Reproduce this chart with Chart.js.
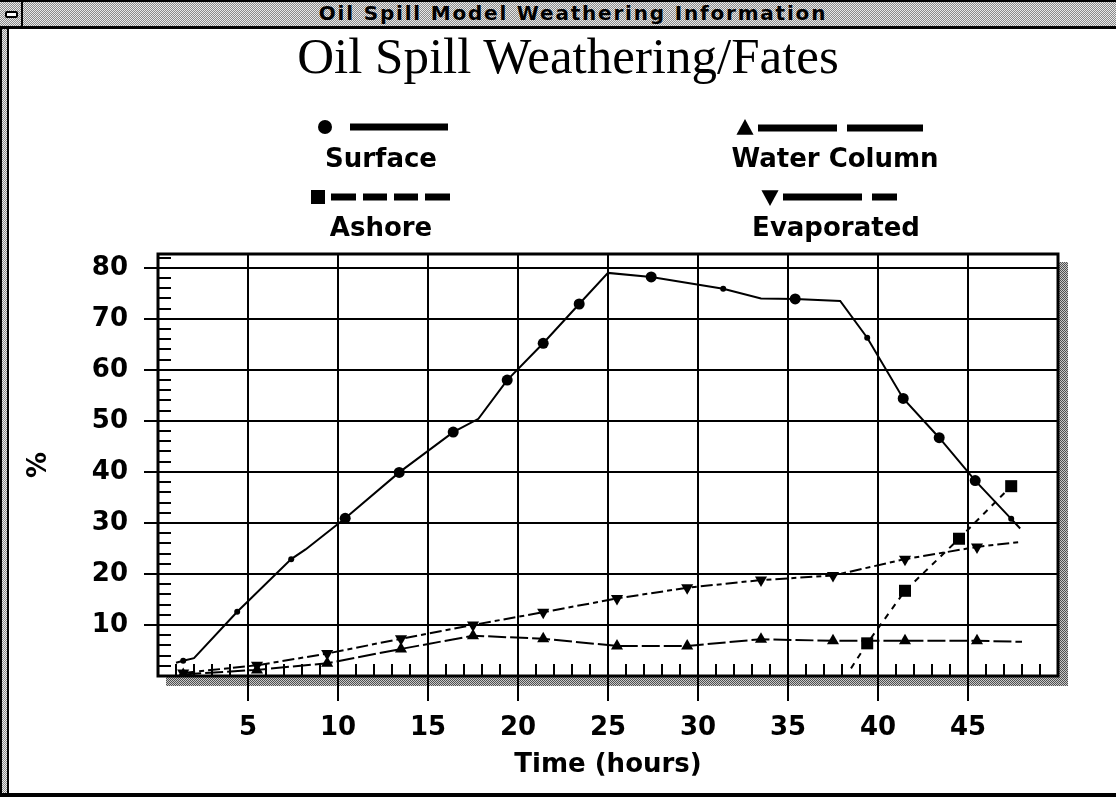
<!DOCTYPE html>
<html>
<head>
<meta charset="utf-8">
<title>Oil Spill Model Weathering Information</title>
<script src="https://cdn.jsdelivr.net/npm/chart.js@4.4.1/dist/chart.umd.min.js"></script>
<style>
  html, body { margin: 0; padding: 0; background: #fff; }
  #win { position: relative; width: 1116px; height: 799px; overflow: hidden; background: #fff; }
  .dither {
    background-color: #bbb;
    background-image: conic-gradient(#8a8a8a 25%, #e8e8e8 0 50%, #8a8a8a 0 75%, #e8e8e8 0);
    background-size: 2px 2px;
  }
  #edgeL { position: absolute; left: 0; top: 0; width: 5px; height: 797px; border-left: 2px solid #000; border-right: 2px solid #000; }
  #bar { position: absolute; left: 0; top: 0; width: 1116px; height: 24px; border-top: 2px solid #000; border-bottom: 3px solid #000; }
  #sys { position: absolute; left: 2px; top: 2px; width: 19px; height: 24px; border-right: 2px solid #000; }
  #sys i { position: absolute; left: 3px; top: 9px; width: 9px; height: 3px; background: #fff; border: 2px solid #000; border-radius: 2px; }
  #barText { position: absolute; left: 0; top: 3px; width: 1146px; text-align: center; font: bold 20px "DejaVu Sans"; letter-spacing: 1.8px; line-height: 20px; color: #000; white-space: nowrap; }
  #title { position: absolute; left: 0; top: 31px; width: 1136px; text-align: center; font: 51px "Liberation Serif"; line-height: 50px; color: #000; white-space: nowrap; }
  #bottom { position: absolute; left: 0; top: 793px; width: 1116px; height: 4px; background: #000; }
  #chart { position: absolute; left: 0; top: 0; }
</style>
</head>
<body>
<div id="win">
  <div id="edgeL" class="dither"></div>
  <div id="bar" class="dither"></div>
  <div id="sys" class="dither"><i></i></div>
  <div id="barText">Oil Spill Model Weathering Information</div>
  <div id="title">Oil Spill Weathering/Fates</div>
  <div id="bottom"></div>
  <canvas id="chart" width="1116" height="799"></canvas>
</div>
<script>
// 数据（小时, %）
var xTicks = [5, 10, 15, 20, 25, 30, 35, 40, 45];
var yTicks = [10, 20, 30, 40, 50, 60, 70, 80];

var surfaceHours = [1.0, 1.4, 2.0, 4.4, 5.1, 7.4, 8.2, 10.4, 13.4, 16.4, 17.8, 19.4, 21.4, 23.4, 25.0, 27.4, 31.4, 33.5, 35.4, 37.9, 39.4, 41.4, 43.4, 45.4, 47.4, 47.9];
var surfacePct = [2.6, 3.0, 3.5, 12.6, 15.0, 22.9, 24.8, 30.9, 39.9, 47.8, 50.4, 58.0, 65.2, 72.9, 79.0, 78.2, 75.9, 74.0, 73.9, 73.5, 66.3, 54.4, 46.7, 38.3, 30.8, 28.9];

var ashoreHours = [38.5, 39.4, 41.5, 44.5, 47.4];
var ashorePct = [1.5, 6.4, 16.7, 26.9, 37.2];

var waterHours = [1.4, 5.5, 9.4, 13.5, 17.5, 21.4, 25.5, 29.4, 33.5, 37.5, 41.5, 45.5, 48.0];
var waterPct = [0.3, 1.2, 2.5, 5.3, 7.9, 7.3, 5.9, 5.9, 7.2, 6.9, 6.9, 6.9, 6.7];

var evapHours = [1.4, 5.5, 9.4, 13.5, 17.5, 21.4, 25.5, 29.4, 33.5, 37.5, 41.5, 45.5, 48.0];
var evapPct = [0.6, 2.1, 4.4, 7.3, 10.0, 12.5, 15.2, 17.3, 18.8, 19.7, 22.9, 25.3, 26.3];

// 标记大小：0 无, 1 小, 2 大
var surfaceMark = [0, 1, 0, 1, 0, 1, 0, 2, 2, 2, 0, 2, 2, 2, 0, 2, 1, 0, 2, 0, 1, 2, 2, 2, 1, 0];

function xy(hours, pct) {
    return hours.map(function (h, i) { return { x: h, y: pct[i] }; });
}

var fontBold = "'DejaVu Sans', sans-serif";

//抖动灰色
function ditherPattern(ctx) {
    var c = document.createElement('canvas');
    c.width = 2; c.height = 2;
    var g = c.getContext('2d');
    g.fillStyle = '#c8c8c8'; g.fillRect(0, 0, 2, 2);
    g.fillStyle = '#505050'; g.fillRect(0, 0, 1, 1); g.fillRect(1, 1, 1, 1);
    return ctx.createPattern(c, 'repeat');
}

function mark(ctx, style, x, y, r, rot) {
    ctx.beginPath();
    if (style === 'circle') {
        ctx.arc(x, y, r, 0, Math.PI * 2);
    } else if (style === 'rect') {
        ctx.rect(x - r, y - r, 2 * r, 2 * r);
    } else {
        var d = rot ? -1 : 1;
        ctx.moveTo(x, y - d * r);
        ctx.lineTo(x + r * 0.95, y + d * r * 0.75);
        ctx.lineTo(x - r * 0.95, y + d * r * 0.75);
        ctx.closePath();
    }
    ctx.fill();
}

// 图例
var legendSpots = [
    { ds: 0, at: [325, 127], r: 7, bars: [[350, 448]], label: [381, 160] },
    { ds: 1, at: [318, 197], r: 7, bars: [[331, 356], [363, 387], [394, 418], [425, 450]], label: [381, 229] },
    { ds: 2, at: [745, 128], r: 9, bars: [[758, 837], [847, 923]], label: [835, 160] },
    { ds: 3, at: [770, 197], r: 9, bars: [[783, 862], [872, 897]], label: [836, 229] }
];

var framePlugin = {
    id: 'frame',
    beforeDraw: function (chart) {
        var ctx = chart.ctx, a = chart.chartArea;
        ctx.save();
        ctx.fillStyle = ditherPattern(ctx);
        ctx.fillRect(a.right + 1, a.top + 8, 9, a.bottom - a.top + 2);
        ctx.fillRect(a.left + 8, a.bottom + 1, a.right - a.left + 2, 9);
        ctx.restore();
    },
    beforeDatasetsDraw: function (chart) {
        var ctx = chart.ctx, a = chart.chartArea;
        var xs = chart.scales.x, ys = chart.scales.y;
        ctx.save();
        ctx.strokeStyle = '#000';
        ctx.lineWidth = 2;
        ctx.beginPath();
        for (var h = 1; h < 50; h++) {
            if (h % 5 === 0) continue;
            var px = Math.round(xs.getPixelForValue(h));
            ctx.moveTo(px, a.bottom);
            ctx.lineTo(px, a.bottom - 12);
        }
        for (var v = 2; v < ys.max; v += 2) {
            if (v % 10 === 0) continue;
            var py = Math.round(ys.getPixelForValue(v));
            ctx.moveTo(a.left, py);
            ctx.lineTo(a.left + 13, py);
        }
        ctx.stroke();
        ctx.lineWidth = 3;
        ctx.strokeRect(a.left, a.top, a.right - a.left, a.bottom - a.top);
        ctx.restore();
    },
    afterDraw: function (chart) {
        var ctx = chart.ctx;
        ctx.save();
        ctx.fillStyle = '#000';
        legendSpots.forEach(function (s) {
            var ds = chart.data.datasets[s.ds];
            mark(ctx, ds.pointStyle, s.at[0], s.at[1], s.r, ds.pointRotation);
            s.bars.forEach(function (b) {
                ctx.fillRect(b[0], s.at[1] - 3.5, b[1] - b[0], 7);
            });
            ctx.font = 'bold 26px ' + fontBold;
            ctx.textAlign = 'center';
            ctx.textBaseline = 'middle';
            ctx.fillText(ds.label, s.label[0], s.label[1]);
        });
        ctx.restore();
    }
};

var ctx = document.getElementById('chart');
var myChart = new Chart(ctx, {
    type: 'scatter',
    data: {
        datasets: [{
            label: 'Surface',
            data: xy(surfaceHours, surfacePct),
            showLine: true,
            borderColor: '#000',
            backgroundColor: '#000',
            borderWidth: 2,
            pointStyle: 'circle',
            pointRadius: function (c) { return [0, 3, 5.5][surfaceMark[c.dataIndex]]; },
            pointBorderWidth: 0
        }, {
            label: 'Ashore',
            data: xy(ashoreHours, ashorePct),
            showLine: true,
            borderColor: '#000',
            backgroundColor: '#000',
            borderWidth: 2,
            borderDash: [6, 6],
            pointStyle: 'rect',
            pointRadius: function (c) { return c.dataIndex === 0 ? 0 : 8.5; },
            pointBorderWidth: 0
        }, {
            label: 'Water Column',
            data: xy(waterHours, waterPct),
            showLine: true,
            borderColor: '#000',
            backgroundColor: '#000',
            borderWidth: 2,
            borderDash: [18, 4],
            pointStyle: 'triangle',
            pointRadius: function (c) { return c.dataIndex === waterHours.length - 1 ? 0 : 7; },
            pointBorderWidth: 0
        }, {
            label: 'Evaporated',
            data: xy(evapHours, evapPct),
            showLine: true,
            borderColor: '#000',
            backgroundColor: '#000',
            borderWidth: 2,
            borderDash: [12, 4, 5, 4],
            pointStyle: 'triangle',
            pointRotation: 180,
            pointRadius: function (c) { return c.dataIndex === evapHours.length - 1 ? 0 : 7; },
            pointBorderWidth: 0
        }]
    },
    options: {
        responsive: false,
        animation: false,
        layout: { padding: { left: 0, top: 254, right: 58, bottom: 15 } },
        plugins: { legend: { display: false }, tooltip: { enabled: false } },
        scales: {
            x: {
                type: 'linear',
                min: 0,
                max: 50,
                afterBuildTicks: function (s) { s.ticks = xTicks.map(function (v) { return { value: v }; }); },
                afterFit: function (s) { s.height = 108; },
                border: { display: false },
                grid: { color: '#000', lineWidth: 2, tickLength: 25, tickColor: '#000' },
                ticks: { color: '#000', font: { family: fontBold, weight: 'bold', size: 26 }, padding: 12, maxRotation: 0, autoSkip: false },
                title: { display: true, text: 'Time (hours)', color: '#000', font: { family: fontBold, weight: 'bold', size: 26 }, padding: { top: 0, bottom: 3 } }
            },
            y: {
                min: 0,
                max: 82.7,
                afterBuildTicks: function (s) { s.ticks = yTicks.map(function (v) { return { value: v }; }); },
                afterFit: function (s) { s.width = 158; },
                border: { display: false },
                grid: { color: '#000', lineWidth: 2, tickLength: 14, tickColor: '#000' },
                ticks: { color: '#000', font: { family: fontBold, weight: 'bold', size: 26 }, padding: 16, autoSkip: false },
                title: { display: true, text: '%', color: '#000', font: { family: fontBold, weight: 'bold', size: 26 }, padding: { top: 24, bottom: 0 } }
            }
        }
    },
    plugins: [framePlugin]
});
</script>
</body>
</html>
